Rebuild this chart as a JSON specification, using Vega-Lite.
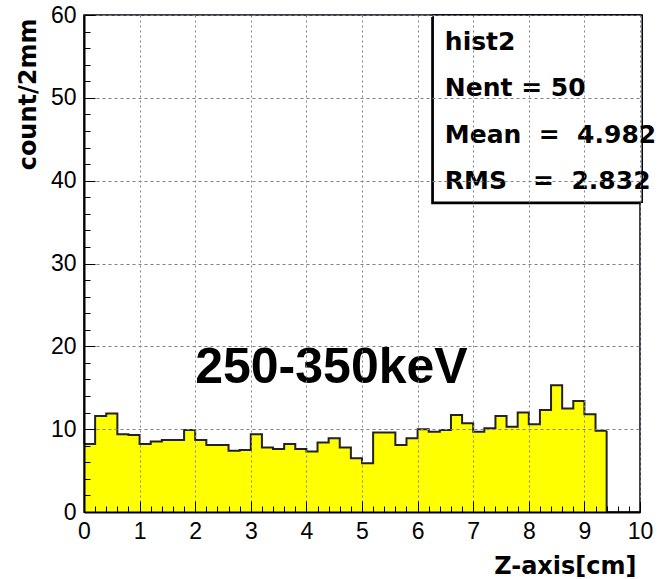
{
  "$schema": "https://vega.github.io/schema/vega-lite/v6.json",
  "width": 556,
  "height": 497,
  "autosize": {"type": "none"},
  "padding": {"left": 84, "top": 15, "right": 20, "bottom": 67},
  "background": "white",
  "view": {"stroke": "black", "strokeWidth": 1.5},
  "datasets": {
    "hist2": [
      {"lo": 0.0, "hi": 0.2, "count": 8.2},
      {"lo": 0.2, "hi": 0.4, "count": 11.6},
      {"lo": 0.4, "hi": 0.6, "count": 11.9},
      {"lo": 0.6, "hi": 0.8, "count": 9.4},
      {"lo": 0.8, "hi": 1.0, "count": 9.3},
      {"lo": 1.0, "hi": 1.2, "count": 8.2},
      {"lo": 1.2, "hi": 1.4, "count": 8.5},
      {"lo": 1.4, "hi": 1.6, "count": 8.7},
      {"lo": 1.6, "hi": 1.8, "count": 8.7},
      {"lo": 1.8, "hi": 2.0, "count": 9.9},
      {"lo": 2.0, "hi": 2.2, "count": 8.7},
      {"lo": 2.2, "hi": 2.4, "count": 8.1},
      {"lo": 2.4, "hi": 2.6, "count": 8.1},
      {"lo": 2.6, "hi": 2.8, "count": 7.4},
      {"lo": 2.8, "hi": 3.0, "count": 7.5},
      {"lo": 3.0, "hi": 3.2, "count": 9.4},
      {"lo": 3.2, "hi": 3.4, "count": 7.8},
      {"lo": 3.4, "hi": 3.6, "count": 7.6},
      {"lo": 3.6, "hi": 3.8, "count": 8.2},
      {"lo": 3.8, "hi": 4.0, "count": 7.6},
      {"lo": 4.0, "hi": 4.2, "count": 7.3},
      {"lo": 4.2, "hi": 4.4, "count": 8.4},
      {"lo": 4.4, "hi": 4.6, "count": 8.9},
      {"lo": 4.6, "hi": 4.8, "count": 7.8},
      {"lo": 4.8, "hi": 5.0, "count": 6.5},
      {"lo": 5.0, "hi": 5.2, "count": 5.9},
      {"lo": 5.2, "hi": 5.4, "count": 9.6},
      {"lo": 5.4, "hi": 5.6, "count": 9.6},
      {"lo": 5.6, "hi": 5.8, "count": 8.1},
      {"lo": 5.8, "hi": 6.0, "count": 8.9},
      {"lo": 6.0, "hi": 6.2, "count": 10.0},
      {"lo": 6.2, "hi": 6.4, "count": 9.7},
      {"lo": 6.4, "hi": 6.6, "count": 9.9},
      {"lo": 6.6, "hi": 6.8, "count": 11.7},
      {"lo": 6.8, "hi": 7.0, "count": 10.7},
      {"lo": 7.0, "hi": 7.2, "count": 9.7},
      {"lo": 7.2, "hi": 7.4, "count": 10.1},
      {"lo": 7.4, "hi": 7.6, "count": 11.6},
      {"lo": 7.6, "hi": 7.8, "count": 10.3},
      {"lo": 7.8, "hi": 8.0, "count": 12.0},
      {"lo": 8.0, "hi": 8.2, "count": 10.6},
      {"lo": 8.2, "hi": 8.4, "count": 12.3},
      {"lo": 8.4, "hi": 8.6, "count": 15.3},
      {"lo": 8.6, "hi": 8.8, "count": 12.5},
      {"lo": 8.8, "hi": 9.0, "count": 13.4},
      {"lo": 9.0, "hi": 9.2, "count": 11.8},
      {"lo": 9.2, "hi": 9.4, "count": 9.8}
    ]
  },
  "data": {"name": "hist2"},
  "encoding": {
    "x": {
      "type": "quantitative",
      "scale": {"domain": [0, 10], "nice": false, "zero": false},
      "axis": {
        "title": "Z-axis[cm]",
        "titleFont": "DejaVu Sans",
        "titleFontWeight": "bold",
        "titleFontSize": 24,
        "titleColor": "black",
        "titleAnchor": "end",
        "titleAlign": "right",
        "titleBaseline": "alphabetic",
        "titleX": 552,
        "titleY": 61,
        "values": [0, 0.2, 0.4, 0.6, 0.8, 1, 1.2, 1.4, 1.6, 1.8, 2, 2.2, 2.4, 2.6, 2.8, 3, 3.2, 3.4, 3.6, 3.8, 4, 4.2, 4.4, 4.6, 4.8, 5, 5.2, 5.4, 5.6, 5.8, 6, 6.2, 6.4, 6.6, 6.8, 7, 7.2, 7.4, 7.6, 7.8, 8, 8.2, 8.4, 8.6, 8.8, 9, 9.2, 9.4, 9.6, 9.8, 10],
        "labelExpr": "abs(datum.value - round(datum.value)) < 0.001 ? format(datum.value, 'd') : ''",
        "labelFont": "Liberation Sans",
        "labelFontSize": 23,
        "labelColor": "black",
        "labelFlush": false,
        "labelOverlap": false,
        "labelBound": false,
        "labelPadding": 19,
        "tickSize": {"condition": {"test": "abs(datum.value - round(datum.value)) < 0.001", "value": -11}, "value": -6},
        "tickColor": "black",
        "tickWidth": 1,
        "domainColor": "black",
        "domainWidth": 2,
        "grid": true,
        "gridColor": "#7f7f8f",
        "gridDash": [2, 3],
        "gridWidth": 1,
        "gridOpacity": {"condition": {"test": "abs(datum.value - round(datum.value)) < 0.001", "value": 1}, "value": 0},
        "zindex": 1
      }
    },
    "y": {
      "type": "quantitative",
      "scale": {"domain": [0, 60], "nice": false},
      "axis": {
        "title": "count/2mm",
        "titleFont": "DejaVu Sans",
        "titleFontWeight": "bold",
        "titleFontSize": 24,
        "titleColor": "black",
        "titleAnchor": "end",
        "titleAngle": 270,
        "titleAlign": "right",
        "titleBaseline": "alphabetic",
        "titleX": -49,
        "titleY": 3,
        "values": [0, 2, 4, 6, 8, 10, 12, 14, 16, 18, 20, 22, 24, 26, 28, 30, 32, 34, 36, 38, 40, 42, 44, 46, 48, 50, 52, 54, 56, 58, 60],
        "labelExpr": "datum.value % 10 === 0 ? format(datum.value, 'd') : ''",
        "labelFont": "Liberation Sans",
        "labelFontSize": 23,
        "labelColor": "black",
        "labelFlush": false,
        "labelOverlap": false,
        "labelBound": false,
        "labelPadding": 19,
        "tickSize": {"condition": {"test": "datum.value % 10 === 0", "value": -11}, "value": -6},
        "tickColor": "black",
        "tickWidth": 1,
        "domainColor": "black",
        "domainWidth": 2,
        "grid": true,
        "gridColor": "#7f7f8f",
        "gridDash": [3, 3],
        "gridWidth": 1,
        "gridOpacity": {"condition": {"test": "datum.value % 10 === 0", "value": 1}, "value": 0},
        "zindex": 1
      }
    }
  },
  "layer": [
    {
      "mark": {"type": "rect", "fill": "#ffff00", "stroke": "#ffff00", "strokeWidth": 0.8},
      "encoding": {
        "x": {"field": "lo", "type": "quantitative"},
        "x2": {"field": "hi"},
        "y": {"field": "count", "type": "quantitative"},
        "y2": {"datum": 0}
      }
    },
    {
      "transform": [{"fold": ["lo", "hi"], "as": ["edge", "edgeX"]}],
      "mark": {"type": "line", "stroke": "#222222", "strokeWidth": 2, "interpolate": "linear"},
      "encoding": {
        "x": {"field": "edgeX", "type": "quantitative"},
        "y": {"field": "count", "type": "quantitative"},
        "order": [
          {"field": "edgeX", "type": "quantitative", "sort": "ascending"},
          {"field": "edge", "type": "nominal", "sort": "ascending"}
        ]
      }
    },
    {
      "transform": [{"window": [{"op": "row_number", "as": "rank"}], "sort": [{"field": "hi", "order": "descending"}]}, {"filter": "datum.rank === 1"}],
      "mark": {"type": "rule", "stroke": "#222222", "strokeWidth": 2},
      "encoding": {
        "x": {"field": "hi", "type": "quantitative"},
        "y": {"field": "count", "type": "quantitative"},
        "y2": {"datum": 0}
      }
    },
    {
      "data": {"values": [{}]},
      "mark": {"type": "text", "text": "250-350keV", "font": "Liberation Sans", "fontWeight": "bold", "fontSize": 50, "align": "left", "baseline": "alphabetic", "color": "black"},
      "encoding": {
        "x": {"datum": 2.0},
        "y": {"datum": 15.6}
      }
    },
    {
      "data": {"values": [{}]},
      "mark": {"type": "rect", "fill": "black", "xOffset": -2, "yOffset": 2, "x2Offset": -2, "y2Offset": 2},
      "encoding": {
        "x": {"datum": 6.28},
        "x2": {"datum": 10.04},
        "y": {"datum": 37.4},
        "y2": {"datum": 60}
      }
    },
    {
      "data": {"values": [{}]},
      "mark": {"type": "rect", "fill": "white", "stroke": "black", "strokeWidth": 1.5},
      "encoding": {
        "x": {"datum": 6.28},
        "x2": {"datum": 10.04},
        "y": {"datum": 37.4},
        "y2": {"datum": 60}
      }
    },
    {
      "data": {"values": [{}]},
      "mark": {
        "type": "text",
        "text": ["hist2", "Nent\u00a0=\u00a050", "Mean\u00a0\u00a0=\u00a0\u00a04.982", "RMS\u00a0\u00a0\u00a0=\u00a0\u00a02.832"],
        "lineHeight": 46.5,
        "font": "DejaVu Sans",
        "fontWeight": "bold",
        "fontSize": 25,
        "align": "left",
        "baseline": "alphabetic",
        "color": "black"
      },
      "encoding": {
        "x": {"datum": 6.49},
        "y": {"datum": 55.8}
      }
    }
  ]
}
